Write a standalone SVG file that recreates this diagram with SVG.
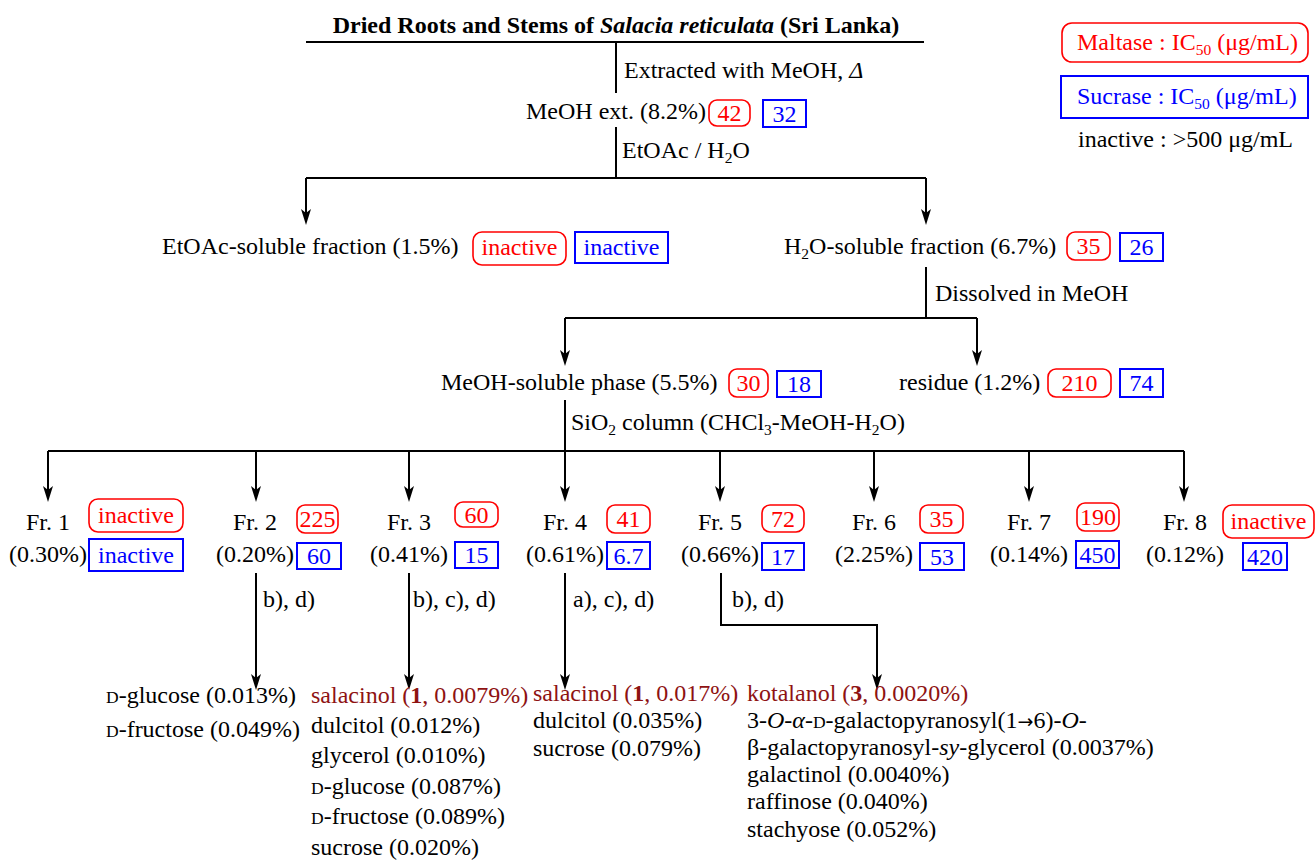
<svg xmlns="http://www.w3.org/2000/svg" width="1316" height="862" viewBox="0 0 1316 862">
<defs>
<style>
text{font-family:"Liberation Serif","DejaVu Serif",serif;font-size:24px;fill:#000}
.r{fill:#f00}
.b{fill:#0000ff}
.dr{fill:#8e1212}
.rb{fill:none;stroke:#f00;stroke-width:1.6}
.bb{fill:none;stroke:#0000ff;stroke-width:2}
.ln{fill:none;stroke:#000;stroke-width:2}
.ar{fill:none;stroke:#000;stroke-width:2;marker-end:url(#ah)}
.sc{font-size:17.5px}
.sub{font-size:15.5px}
.arw{font-family:"DejaVu Sans",sans-serif;font-size:19px}
</style>
<marker id="ah" viewBox="0 0 16 10" refX="10" refY="5" markerWidth="16" markerHeight="10" markerUnits="userSpaceOnUse" orient="auto">
<path d="M0,0 L16,5 L0,10 L4,5 z" fill="#000"/>
</marker>
</defs>
<rect width="1316" height="862" fill="#fff"/>

<g id="connectors">
<path class="ln" d="M306,42 H924"/>
<path class="ln" d="M616,42 V93"/>
<path class="ln" d="M616,127 V178 M306,178 H926"/>
<path class="ar" d="M306,178 V219"/>
<path class="ar" d="M926,178 V219"/>
<path class="ln" d="M926,267 V318 M565,318 H977"/>
<path class="ar" d="M565,318 V360"/>
<path class="ar" d="M977,318 V360"/>
<path class="ln" d="M565,400 V451 M48,451 H1184"/>
<path class="ar" d="M48,451 V496"/>
<path class="ar" d="M256,451 V496"/>
<path class="ar" d="M409,451 V496"/>
<path class="ar" d="M565,451 V496"/>
<path class="ar" d="M720,451 V496"/>
<path class="ar" d="M874,451 V496"/>
<path class="ar" d="M1029,451 V496"/>
<path class="ar" d="M1184,451 V496"/>
<path class="ar" d="M256,573 V684"/>
<path class="ar" d="M409,573 V684"/>
<path class="ar" d="M565,573 V684"/>
<path class="ar" d="M721,573 V625 H877 V684"/>
<text x="624" y="78">Extracted with MeOH, <tspan font-style="italic">Δ</tspan></text>
<text x="622" y="158">EtOAc / H<tspan class="sub" dy="5">2</tspan><tspan dy="-5">O</tspan></text>
<text x="935" y="301">Dissolved in MeOH</text>
<text x="571" y="430">SiO<tspan class="sub" dy="5">2</tspan><tspan dy="-5"> column (CHCl</tspan><tspan class="sub" dy="5">3</tspan><tspan dy="-5">-MeOH-H</tspan><tspan class="sub" dy="5">2</tspan><tspan dy="-5">O)</tspan></text>
<text x="263" y="607">b), d)</text>
<text x="413" y="607">b), c), d)</text>
<text x="573" y="607">a), c), d)</text>
<text x="732" y="607">b), d)</text>
</g>

<g id="title">
<text x="616" y="33" text-anchor="middle" font-weight="bold" font-size="22">Dried Roots and Stems of <tspan font-style="italic">Salacia reticulata</tspan> (Sri Lanka)</text>
</g>

<g id="legend">
<rect class="rb" x="1062" y="23" width="246" height="39" rx="10"/>
<text class="r" x="1077" y="50">Maltase : IC<tspan class="sub" dy="5">50</tspan><tspan dy="-5"> (μg/mL)</tspan></text>
<rect class="bb" x="1061" y="76" width="247" height="42"/>
<text class="b" x="1077" y="104">Sucrase : IC<tspan class="sub" dy="5">50</tspan><tspan dy="-5"> (μg/mL)</tspan></text>
<text x="1078" y="147">inactive : &gt;500 μg/mL</text>
</g>

<g id="meoh-ext">
<text x="526" y="119">MeOH ext. (8.2%)</text>
<rect class="rb" x="709" y="100" width="41" height="26" rx="8"/>
<text class="r" x="729.5" y="121" text-anchor="middle">42</text>
<rect class="bb" x="763" y="100" width="43" height="27"/>
<text class="b" x="784.5" y="122" text-anchor="middle">32</text>
</g>

<g id="etoac-fraction">
<text x="162" y="254">EtOAc-soluble fraction (1.5%)</text>
<rect class="rb" x="473" y="232" width="93" height="33" rx="9"/>
<text class="r" x="519.5" y="255" text-anchor="middle">inactive</text>
<rect class="bb" x="575" y="232" width="93" height="31"/>
<text class="b" x="621.5" y="255" text-anchor="middle">inactive</text>
</g>

<g id="h2o-fraction">
<text x="784" y="254">H<tspan class="sub" dy="5">2</tspan><tspan dy="-5">O-soluble fraction (6.7%)</tspan></text>
<rect class="rb" x="1067" y="232" width="43" height="28" rx="8"/>
<text class="r" x="1088.5" y="254" text-anchor="middle">35</text>
<rect class="bb" x="1120" y="233" width="43" height="28"/>
<text class="b" x="1141.5" y="255" text-anchor="middle">26</text>
</g>

<g id="meoh-phase">
<text x="441" y="390">MeOH-soluble phase (5.5%)</text>
<rect class="rb" x="729" y="369" width="39" height="28" rx="8"/>
<text class="r" x="748.5" y="391" text-anchor="middle">30</text>
<rect class="bb" x="777" y="371" width="44" height="26"/>
<text class="b" x="799" y="392" text-anchor="middle">18</text>
</g>

<g id="residue">
<text x="899" y="390">residue (1.2%)</text>
<rect class="rb" x="1048" y="369" width="63" height="28" rx="8"/>
<text class="r" x="1079.5" y="391" text-anchor="middle">210</text>
<rect class="bb" x="1120" y="369" width="43" height="28"/>
<text class="b" x="1141.5" y="391" text-anchor="middle">74</text>
</g>

<g id="fr1">
<text x="48" y="530" text-anchor="middle">Fr. 1</text>
<text x="48" y="562" text-anchor="middle">(0.30%)</text>
<rect class="rb" x="89" y="499" width="94" height="33" rx="9"/>
<text class="r" x="136" y="523" text-anchor="middle">inactive</text>
<rect class="bb" x="89" y="539" width="94" height="32"/>
<text class="b" x="136" y="563" text-anchor="middle">inactive</text>
</g>

<g id="fr2">
<text x="255" y="530" text-anchor="middle">Fr. 2</text>
<text x="255" y="562" text-anchor="middle">(0.20%)</text>
<rect class="rb" x="297" y="505" width="41" height="28" rx="8"/>
<text class="r" x="317.5" y="527" text-anchor="middle">225</text>
<rect class="bb" x="297" y="543" width="44" height="26"/>
<text class="b" x="319" y="564" text-anchor="middle">60</text>
</g>

<g id="fr3">
<text x="409" y="530" text-anchor="middle">Fr. 3</text>
<text x="409" y="562" text-anchor="middle">(0.41%)</text>
<rect class="rb" x="455" y="502" width="43" height="25" rx="8"/>
<text class="r" x="476.5" y="523" text-anchor="middle">60</text>
<rect class="bb" x="455" y="542" width="43" height="26"/>
<text class="b" x="476.5" y="563" text-anchor="middle">15</text>
</g>

<g id="fr4">
<text x="565" y="530" text-anchor="middle">Fr. 4</text>
<text x="565" y="562" text-anchor="middle">(0.61%)</text>
<rect class="rb" x="607" y="505" width="43" height="28" rx="8"/>
<text class="r" x="628.5" y="527" text-anchor="middle">41</text>
<rect class="bb" x="607" y="542" width="43" height="27"/>
<text class="b" x="628.5" y="564" text-anchor="middle">6.7</text>
</g>

<g id="fr5">
<text x="720" y="530" text-anchor="middle">Fr. 5</text>
<text x="720" y="562" text-anchor="middle">(0.66%)</text>
<rect class="rb" x="762" y="505" width="42" height="27" rx="8"/>
<text class="r" x="783" y="527" text-anchor="middle">72</text>
<rect class="bb" x="762" y="543" width="42" height="27"/>
<text class="b" x="783" y="565" text-anchor="middle">17</text>
</g>

<g id="fr6">
<text x="874" y="530" text-anchor="middle">Fr. 6</text>
<text x="874" y="562" text-anchor="middle">(2.25%)</text>
<rect class="rb" x="920" y="505" width="43" height="28" rx="8"/>
<text class="r" x="941.5" y="527" text-anchor="middle">35</text>
<rect class="bb" x="920" y="543" width="44" height="27"/>
<text class="b" x="942" y="565" text-anchor="middle">53</text>
</g>

<g id="fr7">
<text x="1029" y="530" text-anchor="middle">Fr. 7</text>
<text x="1029" y="562" text-anchor="middle">(0.14%)</text>
<rect class="rb" x="1077" y="503" width="42" height="28" rx="8"/>
<text class="r" x="1098" y="525" text-anchor="middle">190</text>
<rect class="bb" x="1076" y="541" width="43" height="27"/>
<text class="b" x="1097.5" y="563" text-anchor="middle">450</text>
</g>

<g id="fr8">
<text x="1185" y="530" text-anchor="middle">Fr. 8</text>
<text x="1185" y="562" text-anchor="middle">(0.12%)</text>
<rect class="rb" x="1223" y="505" width="91" height="33" rx="9"/>
<text class="r" x="1268.5" y="529" text-anchor="middle">inactive</text>
<rect class="bb" x="1243" y="543" width="44" height="27"/>
<text class="b" x="1265" y="565" text-anchor="middle">420</text>
</g>

<g id="products-fr2">
<text x="106" y="703"><tspan class="sc">D</tspan>-glucose (0.013%)</text>
<text x="106" y="737"><tspan class="sc">D</tspan>-fructose (0.049%)</text>
</g>

<g id="products-fr3">
<text class="dr" x="311" y="703">salacinol (<tspan font-weight="bold">1</tspan>, 0.0079%)</text>
<text x="311" y="733">dulcitol (0.012%)</text>
<text x="311" y="763">glycerol (0.010%)</text>
<text x="311" y="794"><tspan class="sc">D</tspan>-glucose (0.087%)</text>
<text x="311" y="824"><tspan class="sc">D</tspan>-fructose (0.089%)</text>
<text x="311" y="855">sucrose (0.020%)</text>
</g>

<g id="products-fr4">
<text class="dr" x="533" y="701">salacinol (<tspan font-weight="bold">1</tspan>, 0.017%)</text>
<text x="533" y="728">dulcitol (0.035%)</text>
<text x="533" y="756">sucrose (0.079%)</text>
</g>

<g id="products-fr5">
<text class="dr" x="747" y="701">kotalanol (<tspan font-weight="bold">3</tspan>, 0.0020%)</text>
<text x="747" y="728">3-<tspan font-style="italic">O</tspan>-<tspan font-style="italic">α</tspan>-<tspan class="sc">D</tspan>-galactopyranosyl(1<tspan class="arw">→</tspan>6)-<tspan font-style="italic">O</tspan>-</text>
<text x="747" y="755">β-galactopyranosyl-<tspan font-style="italic">sy</tspan>-glycerol (0.0037%)</text>
<text x="747" y="782">galactinol (0.0040%)</text>
<text x="747" y="809">raffinose (0.040%)</text>
<text x="747" y="837">stachyose (0.052%)</text>
</g>
</svg>
